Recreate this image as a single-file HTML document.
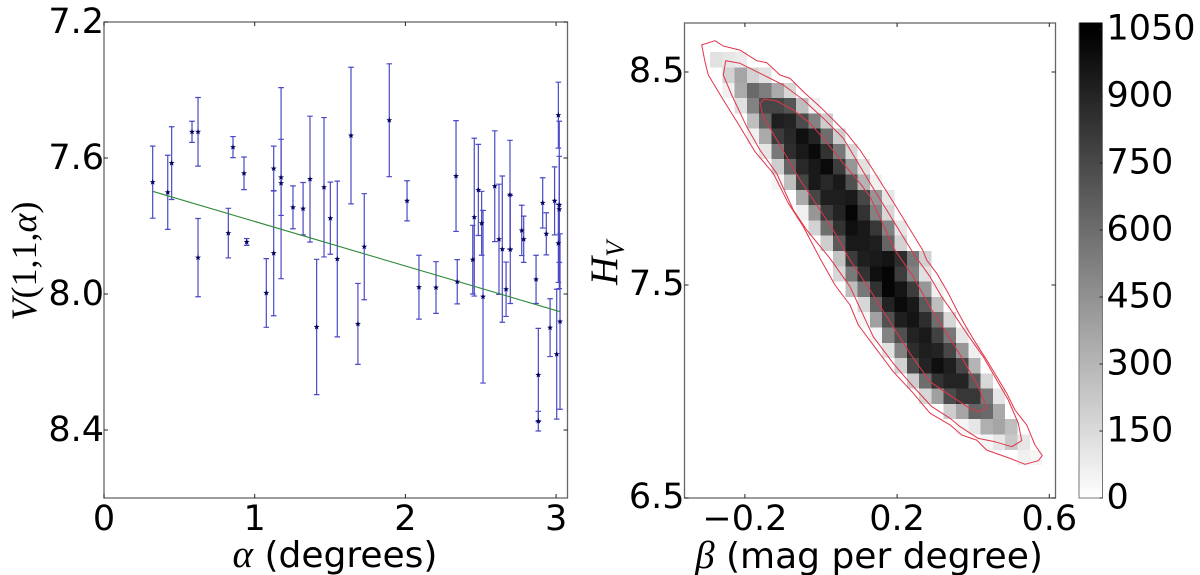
<!DOCTYPE html>
<html>
<head>
<meta charset="utf-8">
<title>Phase curve and posterior</title>
<style>
html,body{margin:0;padding:0;background:#fff;}
svg{display:block;}
.tick{font-family:"DejaVu Sans","Liberation Sans",sans-serif;font-size:35px;fill:#000;}
.lab{font-family:"DejaVu Sans","Liberation Sans",sans-serif;font-size:36px;fill:#000;}
.math{font-family:"Liberation Serif",serif;font-size:36px;fill:#000;}
</style>
</head>
<body>
<svg id="fig" width="1200" height="575" viewBox="0 0 1200 575" xmlns="http://www.w3.org/2000/svg">
<rect width="1200" height="575" fill="#fff"/>
<g id="left"></g>
<g id="right"></g>
<g id="cbar"></g>
<text class="lab" x="335" y="567" text-anchor="middle"><tspan font-style="italic" style="font-family:'Liberation Serif',serif;font-size:39px">α</tspan> (degrees)</text>
<text class="math" transform="translate(36,261) rotate(-90)" text-anchor="middle"><tspan font-style="italic">V</tspan>(1,1,<tspan font-style="italic">α</tspan>)</text>
<text class="lab" x="869" y="568" text-anchor="middle"><tspan font-style="italic" style="font-family:'Liberation Serif',serif;font-size:39px">β</tspan> (mag per degree)</text>
<text class="math" transform="translate(617,285)rotate(-90)" style="font-size:39px"><tspan font-style="italic">H</tspan><tspan font-style="italic" font-size="26" dy="7">V</tspan></text>
</svg>
<script>
var alphaVals=[0.323,0.423,0.449,0.584,0.624,0.856,0.929,0.624,0.825,0.947,1.126,1.126,1.077,1.175,1.175,1.254,1.321,1.367,1.460,1.502,1.411,1.548,1.639,1.727,1.893,2.011,2.336,2.457,2.484,2.506,2.515,2.447,2.593,2.621,2.643,2.694,2.696,2.668,2.772,2.785,2.911,2.935,2.990,3.015,3.021,3.021,3.015,3.026,2.867,2.882,2.882,2.960,3.004,1.685,2.090,2.203,2.344];
var magVals=[7.671,7.701,7.615,7.523,7.523,7.568,7.645,7.893,7.821,7.847,7.631,7.880,7.997,7.657,7.674,7.745,7.749,7.662,7.686,7.777,8.097,7.897,7.534,7.861,7.489,7.726,7.653,7.774,7.694,7.792,8.008,7.899,7.683,7.839,7.868,7.708,7.869,7.986,7.813,7.839,7.732,7.823,7.726,7.474,7.738,7.751,7.851,8.081,7.957,8.238,8.374,8.099,8.177,8.088,7.980,7.981,7.964];
var magErr=[0.106,0.109,0.107,0.031,0.101,0.031,0.048,0.115,0.073,0.010,0.066,0.184,0.101,0.112,0.281,0.063,0.077,0.185,0.205,0.106,0.199,0.229,0.201,0.156,0.166,0.059,0.163,0.232,0.134,0.094,0.254,0.101,0.163,0.162,0.215,0.160,0.159,0.080,0.074,0.068,0.074,0.062,0.100,0.097,0.246,0.156,0.115,0.258,0.071,0.137,0.029,0.085,0.191,0.119,0.094,0.076,0.065];
var fitAlpha=[0.323,3.026];
var fitMag=[7.698,8.052];
var alphaTicks=[0,1,2,3];
var magTicks=["7.2","7.6","8.0","8.4"];
var betaTicks=[-0.2,0.2,0.6];
var betaTickLabels=["\u22120.2","0.2","0.6"];
var hvTicks=["8.5","7.5","6.5"];
var cbarTicks=[0,150,300,450,600,750,900,1050];

var heatStart=[0,1,1,2,3,3,4,5,5,7,7,8,9,10,10,11,12,12,13,14,15,16,17,19,20,22,25];
var heatCounts=[
[124,103,82],
[185,371,185,124],
[62,350,618,535,350,165],
[124,515,762,762,700,268,62],
[268,638,926,906,741,515,206],
[62,350,803,885,988,906,597,206],
[103,556,865,947,1009,844,556,165],
[206,638,885,947,1009,803,432,124],
[41,268,762,947,885,947,721,309,62],
[350,762,926,926,947,762,432,103],
[62,432,803,906,1029,844,515,165],
[185,597,844,988,947,824,515,103],
[206,679,947,947,926,638,185],
[247,803,926,947,968,865,556,185],
[165,556,844,988,1029,803,515,124],
[268,556,844,1029,968,803,432,62],
[165,638,906,1009,947,679,268],
[41,391,721,926,968,865,597,165],
[41,515,721,906,947,782,556,103],
[124,515,865,926,906,762,432,62],
[185,741,906,988,926,762,309],
[206,597,844,906,906,679,165],
[165,391,741,824,824,556,103],
[206,371,638,618,350],
[41,103,329,371,268],
[41,103,226,103],
[62,41]
];

var outerBeta=[-.3135,-.2786,-.2568,-.2129,-.169,-.1427,-.1077,-.0815,-.0465,-.0026,.0323,.0675,.1025,.1288,.1945,.2673,.2778,.3041,.3345,.3566,.3784,.4047,.4355,.4617,.488,.5098,.5406,.5624,.5816,.5711,.5361,.4967,.4355,.4092,.3698,.339,.2865,.2426,.19,.1374,.098,.0762,.0368,-.0026,-.0465,-.0859,-.1254,-.1734,-.2129,-.2568,-.2962,-.3048];
var outerHv=[8.627,8.647,8.622,8.603,8.553,8.544,8.486,8.470,8.408,8.337,8.275,8.212,8.134,8.063,7.876,7.664,7.617,7.555,7.461,7.383,7.312,7.234,7.148,7.070,6.992,6.913,6.843,6.749,6.699,6.675,6.658,6.686,6.725,6.772,6.796,6.843,6.898,6.992,7.093,7.218,7.312,7.406,7.5,7.625,7.774,7.884,8.024,8.126,8.243,8.369,8.486,8.548];
var middleBeta=[-.2568,-.2504,-.2129,-.1603,-.0991,-.0465,.006,.0586,.1288,.2426,.2865,.3172,.3477,.3829,.4265,.4617,.4922,.5185,.5274,.5012,.4573,.4134,.3653,.339,.2909,.2384,.19,.1374,.0762,.0237,-.0376,-.0728,-.1164,-.1603,-.1953,-.2347];
var middleHv=[8.486,8.553,8.541,8.494,8.439,8.369,8.283,8.189,7.979,7.649,7.539,7.445,7.367,7.273,7.163,7.054,6.96,6.851,6.769,6.741,6.764,6.78,6.835,6.874,6.929,7.031,7.132,7.257,7.492,7.625,7.758,7.852,8.024,8.134,8.243,8.392];
var innerBeta=[-.1603,-.1498,-.1164,-.0728,-.0289,.006,.0586,.1025,.1288,.1945,.2426,.2909,.3304,.374,.4134,.4355,.4134,.3916,.3304,.2865,.2339,.1727,.1288,.0762,.0323,-.0113,-.0552,-.0901,-.1209,-.1516];
var innerHv=[8.353,8.373,8.364,8.322,8.259,8.189,8.071,7.978,7.915,7.664,7.539,7.383,7.273,7.148,7.023,6.921,6.905,6.921,6.992,7.046,7.179,7.351,7.477,7.617,7.758,7.876,7.993,8.102,8.196,8.29];

var NS="http://www.w3.org/2000/svg";
function mk(parent,tag,attrs){
  var e=document.createElementNS(NS,tag);
  for(var k in attrs){e.setAttribute(k,attrs[k]);}
  parent.appendChild(e);
  return e;
}
var L=document.getElementById('left'),R=document.getElementById('right'),C=document.getElementById('cbar');

/* left axis functions */
var lx0=104,lx1=567.5,ly0=22,ly1=498;
function ax(a){return 104+a*150.7;}
function ay(v){return 22+(v-7.2)*340;}
/* right axis functions */
var rx0=684.5,rx1=1055.5,ry0=23,ry1=498;
function bx(b){return 821+b*380.5;}
function hy(h){return 498-(h-6.5)*213;}

/* left frame */
var lf=mk(L,'rect',{x:lx0,y:ly0,width:lx1-lx0,height:ly1-ly0,fill:'#fff',stroke:'#666','stroke-width':1.3});



/* error bars */
alphaVals.forEach(function(a,i){
  var x=ax(a),t=ay(magVals[i]-magErr[i]),b=ay(magVals[i]+magErr[i]);
  var g=mk(L,'path',{d:'M'+x+' '+t+'V'+b+'M'+(x-2.8)+' '+t+'H'+(x+2.8)+'M'+(x-2.8)+' '+b+'H'+(x+2.8),stroke:'#4a4ac6','stroke-width':1.2,fill:'none'});
  
  
});
/* fit line */
var fit=mk(L,'line',{x1:ax(fitAlpha[0]),y1:ay(fitMag[0]),x2:ax(fitAlpha[1]),y2:ay(fitMag[1]),stroke:'#2f8a3a','stroke-width':1.1});


/* star markers */
function starPts(cx,cy,r){
  var p=[];
  for(var k=0;k<10;k++){
    var rr=k%2?r*0.42:r,th=-Math.PI/2+k*Math.PI/5;
    p.push((cx+rr*Math.cos(th)).toFixed(2)+','+(cy+rr*Math.sin(th)).toFixed(2));
  }
  return p.join(' ');
}
alphaVals.forEach(function(a,i){
  var s=mk(L,'polygon',{points:starPts(ax(a),ay(magVals[i]),3.1),fill:'#00005e'});
  
  
});
/* left ticks */
alphaTicks.forEach(function(t){
  var x=ax(t);
  var m=mk(L,'path',{d:'M'+x+' '+ly0+'v4M'+x+' '+ly1+'v-4',stroke:'#222','stroke-width':1});
  
  
  var l=mk(L,'text',{x:x,y:530,'text-anchor':'middle','class':'tick'});
  
  
  l.textContent=String(t);
});
magTicks.forEach(function(t){
  var y=ay(parseFloat(t));
  var m=mk(L,'path',{d:'M'+lx0+' '+y+'h4M'+lx1+' '+y+'h-4',stroke:'#222','stroke-width':1});
  
  
  var l=mk(L,'text',{x:lx0,y:y+11,'text-anchor':'end','class':'tick'});
  
  
  l.textContent=t;
});

/* right frame */
var rf=mk(R,'rect',{x:rx0,y:ry0,width:rx1-rx0,height:ry1-ry0,fill:'#fff',stroke:'#666','stroke-width':1.3});



/* heatmap */
var heatBeta0=-0.2917,heatDB=0.03233,heatH0=8.593,heatDH=0.0718;
function grayOf(v){var g=Math.max(0,Math.round(255*(1-v/1050)));return 'rgb('+g+','+g+','+g+')';}
heatCounts.forEach(function(row,j){
  row.forEach(function(v,i){
    var c=heatStart[j]+i;
    var x=bx(heatBeta0+c*heatDB),x2=bx(heatBeta0+(c+1)*heatDB);
    var y=hy(heatH0-j*heatDH),y2=hy(heatH0-(j+1)*heatDH);
    var r=mk(R,'rect',{x:x,y:y,width:x2-x,height:y2-y,fill:grayOf(v),'shape-rendering':'crispEdges'});
    
    
  });
});
/* contours */
function contour(bs,hs,name){
  var pts=bs.map(function(b,i){return bx(b).toFixed(1)+','+hy(hs[i]).toFixed(1);}).join(' ');
  var p=mk(R,'polygon',{points:pts,fill:'none',stroke:'#e0364a','stroke-width':1,'stroke-linejoin':'round'});
  
  
}
contour(outerBeta,outerHv,'contour-outer');
contour(middleBeta,middleHv,'contour-middle');
contour(innerBeta,innerHv,'contour-inner');

/* right ticks */
betaTicks.forEach(function(t,i){
  var x=bx(t);
  var m=mk(R,'path',{d:'M'+x+' '+ry0+'v4M'+x+' '+ry1+'v-4',stroke:'#222','stroke-width':1});
  
  
  var l=mk(R,'text',{x:x,y:530,'text-anchor':'middle','class':'tick'});
  
  
  l.textContent=betaTickLabels[i];
});
hvTicks.forEach(function(t){
  var y=hy(parseFloat(t));
  var m=mk(R,'path',{d:'M'+rx0+' '+y+'h4M'+rx1+' '+y+'h-4',stroke:'#222','stroke-width':1});
  
  
  var l=mk(R,'text',{x:rx0,y:y+10,'text-anchor':'end','class':'tick'});
  
  
  l.textContent=t;
});

/* colorbar */
var cx0=1079,cx1=1102.5,cy0=498;
function cy(v){return cy0-v*(67/150);}
var cbarMax=1064;
for(var v=0;v<cbarMax;v+=7){
  var st=mk(C,'rect',{x:cx0,y:cy(v+7),width:cx1-cx0,height:cy(v)-cy(v+7)+0.5,fill:grayOf(v+3.5),'shape-rendering':'crispEdges'});
  
  
}
var co=mk(C,'path',{d:'M'+cx0+' '+cy(cbarMax)+'V'+cy0+'H'+cx1+'V'+cy(cbarMax),fill:'none',stroke:'#777','stroke-width':1});


cbarTicks.forEach(function(t){
  var y=cy(t);
  var m=mk(C,'path',{d:'M'+cx1+' '+y+'h-3',stroke:'#222','stroke-width':1});
  
  
  var l=mk(C,'text',{x:1106.5,y:y+10.5,'class':'tick'});
  
  
  l.textContent=String(t);
});
</script>
</body>
</html>
